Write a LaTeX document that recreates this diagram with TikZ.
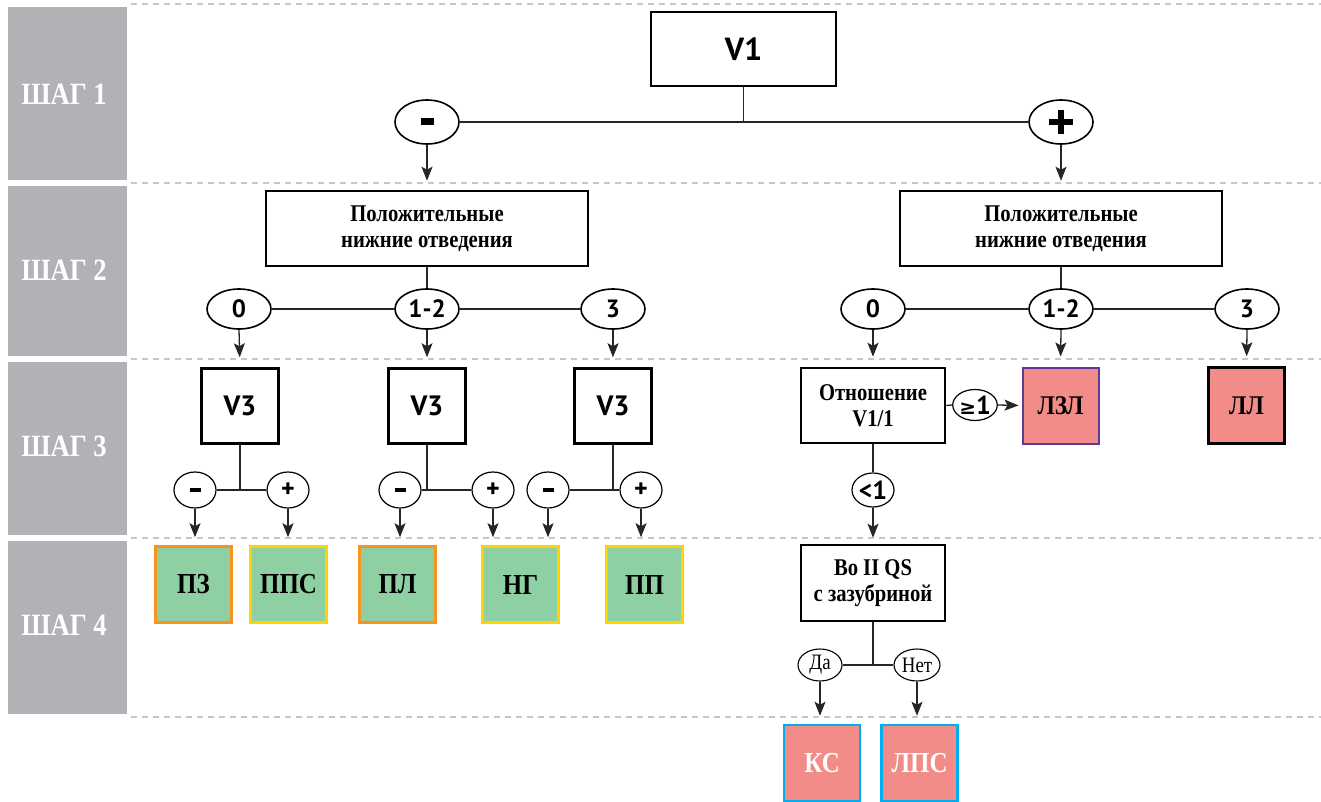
\documentclass[tikz,border=0pt]{standalone}
\usepackage{fontspec}
\setmainfont{Liberation Serif}
\newfontfamily\condserif[FakeStretch=0.86]{Liberation Serif}
\newfontfamily\gsans{PT Sans}
\newfontfamily\symfont{DejaVu Sans}
\usetikzlibrary{arrows.meta,shapes.geometric}
\definecolor{gbg}{HTML}{B1B2B6}
\definecolor{dashc}{HTML}{C6C7C9}
\definecolor{gfill}{HTML}{8ECFA3}
\definecolor{pfill}{HTML}{F28C88}
\definecolor{obord}{HTML}{F7941D}
\definecolor{ybord}{HTML}{FFD200}
\definecolor{vbord}{HTML}{5B3A9A}
\definecolor{cbord}{HTML}{00AEEF}
\newcommand{\bigplus}{\tikz[baseline=-0.5ex,x=1pt,y=1pt]{\fill (-12,-3.3) rectangle (12,3.3);\fill (-3.3,-12) rectangle (3.3,12);}}
\begin{document}
\begin{tikzpicture}[x=1pt,y=-1pt,
  steplabel/.style={text=white,font=\condserif\bfseries\fontsize{31}{31}\selectfont},
  sepline/.style={draw=dashc,line width=2.6pt,dash pattern=on 6pt off 5pt},
  qbox/.style={draw=black,line width=2.5pt,fill=white,align=center,inner sep=0pt,
    font=\condserif\bfseries\fontsize{24}{26}\selectfont},
  vbox/.style={draw=black,line width=2.5pt,fill=white,inner sep=0pt,
    minimum width=77,minimum height=75,font=\gsans\bfseries\fontsize{28}{28}\selectfont},
  bigell/.style={ellipse,draw=black,line width=1.6pt,fill=white,inner sep=0pt,
    minimum width=64,minimum height=40,font=\gsans\bfseries\fontsize{25}{25}\selectfont},
  smell/.style={ellipse,draw=black,line width=1.2pt,fill=white,inner sep=0pt,
    minimum width=42,minimum height=36,font=\gsans\bfseries\fontsize{26}{26}\selectfont},
  txtell/.style={ellipse,draw=black,line width=1.1pt,fill=white,inner sep=0pt,
    minimum height=32,font=\condserif\fontsize{22}{22}\selectfont},
  resbox/.style={line width=2.5pt,inner sep=0pt,minimum width=76,minimum height=76,
    font=\condserif\bfseries\fontsize{29}{29}\selectfont},
  gres/.style={resbox,fill=gfill},
  pres/.style={resbox,fill=pfill},
  conn/.style={line width=1.3pt,draw=black!85},
  arr/.style={conn,-{Stealth[length=14pt,width=11pt,inset=3pt]}}
]
\useasboundingbox (0,0) rectangle (1321,802);

% side step panels
\fill[gbg] (8,7) rectangle (127,180);
\fill[gbg] (8,186) rectangle (127,356);
\fill[gbg] (8,362) rectangle (127,535);
\fill[gbg] (8,541) rectangle (127,714);
\node[steplabel] (s1) at (64,94) {ШАГ 1};
\node[steplabel] (s2) at (64,270) {ШАГ 2};
\node[steplabel] (s3) at (64,446) {ШАГ 3};
\node[steplabel] (s4) at (64,625) {ШАГ 4};

% separators
\foreach \yy in {4,183,359,538,717}{
  \draw[sepline] (131,\yy) -- (1321,\yy);
}

% step 1
\node[qbox,minimum width=185,minimum height=74,font=\gsans\bfseries\fontsize{32}{32}\selectfont] (v1) at (743.5,49) {V1};
\node[bigell,minimum height=44] (m1) at (427,122) {\rule{13pt}{7pt}};
\node[bigell,minimum height=44] (p1) at (1061,122) {\bigplus};
\draw[conn] (v1.south) -- (v1.south |- m1.center);
\draw[conn] (m1.east) -- (p1.west);

% step 2
\node[qbox,minimum width=322,minimum height=75] (b2l) at (427,228.5) {Положительные\\нижние отведения};
\node[qbox,minimum width=322,minimum height=75] (b2r) at (1061,228.5) {Положительные\\нижние отведения};
\draw[arr,shorten >=9pt] (m1.south) -- (b2l.north);
\draw[arr,shorten >=9pt] (p1.south) -- (b2r.north);

\node[bigell] (l0) at (239,309) {0};
\node[bigell] (l12) at (427,309) {1-2};
\node[bigell] (l3) at (613,309) {3};
\node[bigell] (r0) at (873,309) {0};
\node[bigell] (r12) at (1061,309) {1-2};
\node[bigell] (r3) at (1247,309) {3};
\draw[conn] (b2l.south) -- (l12.north);
\draw[conn] (l0.east) -- (l12.west);
\draw[conn] (l12.east) -- (l3.west);
\draw[conn] (b2r.south) -- (r12.north);
\draw[conn] (r0.east) -- (r12.west);
\draw[conn] (r12.east) -- (r3.west);

% step 3 left
\node[vbox] (v3a) at (240,406) {V3};
\node[vbox] (v3b) at (427,406) {V3};
\node[vbox] (v3c) at (613,406) {V3};
\draw[arr,shorten >=10pt] (l0.south) -- (v3a.north);
\draw[arr,shorten >=10pt] (l12.south) -- (v3b.north);
\draw[arr,shorten >=10pt] (l3.south) -- (v3c.north);

\node[smell] (am) at (195,490) {\rule{11pt}{4pt}};
\node[smell] (ap) at (288,490) {+};
\node[smell] (bm) at (400,490) {\rule{11pt}{4pt}};
\node[smell] (bp) at (493,490) {+};
\node[smell] (cm) at (548,490) {\rule{11pt}{4pt}};
\node[smell] (cp) at (641,490) {+};
\draw[conn] (v3a.south) -- (v3a.south |- am.center);
\draw[conn] (am.east) -- (ap.west);
\draw[conn] (v3b.south) -- (v3b.south |- bm.center);
\draw[conn] (bm.east) -- (bp.west);
\draw[conn] (v3c.south) -- (v3c.south |- cm.center);
\draw[conn] (cm.east) -- (cp.west);

% step 4 left results
\node[gres,draw=obord] (pz) at (193.5,584.5) {ПЗ};
\node[gres,draw=ybord] (pps) at (288.5,584.5) {ППС};
\node[gres,draw=obord] (pl) at (397.5,584.5) {ПЛ};
\node[gres,draw=ybord] (ng) at (520.5,584.5) {НГ};
\node[gres,draw=ybord] (pp) at (644.5,584.5) {ПП};
\draw[arr,shorten >=8pt] (am.south) -- (am.south |- pz.north);
\draw[arr,shorten >=8pt] (ap.south) -- (ap.south |- pps.north);
\draw[arr,shorten >=8pt] (bm.south) -- (bm.south |- pl.north);
\draw[arr,shorten >=8pt] (bp.south) -- (bp.south |- ng.north);
\draw[arr,shorten >=8pt] (cm.south) -- (cm.south |- ng.north);
\draw[arr,shorten >=8pt] (cp.south) -- (cp.south |- pp.north);

% step 3 right
\node[qbox,minimum width=144,minimum height=75] (rat) at (873,405.5) {Отношение\\V1/1};
\node[pres,draw=vbord,line width=2pt,font=\condserif\bfseries\fontsize{27}{27}\selectfont] (lzl) at (1060.5,405.5) {ЛЗЛ};
\node[pres,draw=black,font=\condserif\bfseries\fontsize{27}{27}\selectfont] (ll) at (1246.5,405.5) {ЛЛ};
\draw[arr,shorten >=10pt] (r0.south) -- (rat.north);
\draw[arr,shorten >=10pt] (r12.south) -- (lzl.north);
\draw[arr,shorten >=10pt] (r3.south) -- (ll.north);

\node[smell,minimum width=40,minimum height=31] (ge) at (975,405) {{\symfont\fontsize{20}{20}\selectfont ≥}1};
\draw[conn] (rat.east) -- (ge.west);
\draw[arr,shorten >=3pt] (ge.east) -- (lzl.west);
\node[smell,minimum height=34] (lt) at (873,490) {<1};
\draw[conn] (rat.south) -- (lt.north);

% step 4 right
\node[qbox,minimum width=144,minimum height=76] (qs) at (873,583) {Во II QS\\с зазубриной};
\draw[arr,shorten >=6pt] (lt.south) -- (qs.north);
\node[txtell,minimum width=44] (da) at (820,665) {Да};
\node[txtell,minimum width=46] (net) at (917,665) {Нет};
\draw[conn] (qs.south) -- (qs.south |- da.center);
\draw[conn] (da.east) -- (net.west);

\node[pres,draw=cbord,text=white] (ks) at (822,763) {КС};
\node[pres,draw=cbord,text=white] (lps) at (919.5,763) {ЛПС};
\draw[arr,shorten >=8pt] (da.south) -- (da.south |- ks.north);
\draw[arr,shorten >=8pt] (net.south) -- (net.south |- lps.north);
\end{tikzpicture}
\end{document}
